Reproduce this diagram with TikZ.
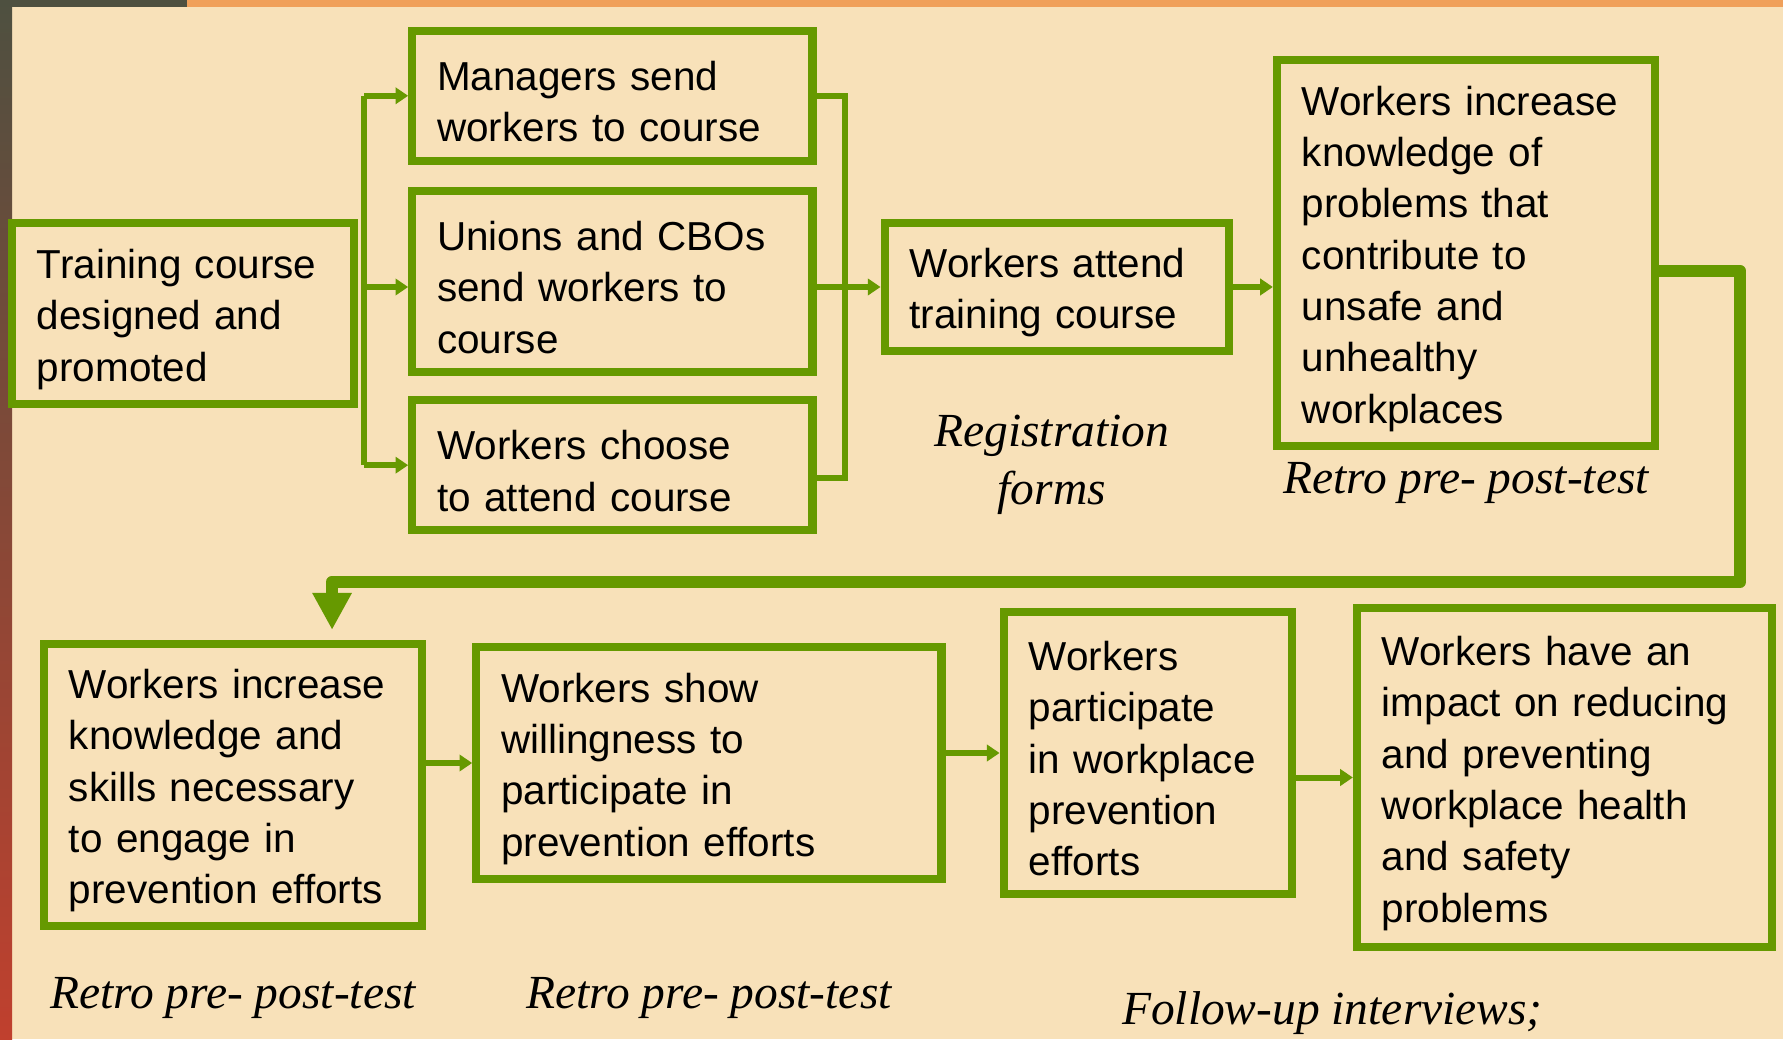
\documentclass[tikz,border=0pt]{standalone}
\usepackage{fontspec}
\setmainfont{Liberation Sans}
\newfontfamily\methodserif{Liberation Serif}
\usepackage{tikz}
\usetikzlibrary{arrows.meta,positioning,calc}
\definecolor{pathgreen}{HTML}{669900}
\definecolor{slidebg}{HTML}{F8E1B9}
\definecolor{slideolive}{HTML}{4E5040}
\definecolor{slideorange}{HTML}{F0A05A}
\definecolor{slidemaroon}{HTML}{6E4450}
\definecolor{slidered}{HTML}{C0402E}
\newcommand{\boxfont}{\fontsize{11.5}{14.6}\selectfont}
\newcommand{\methodfont}{\methodserif\itshape\fontsize{13.5}{16.5}\selectfont}
\tikzset{
  box/.style={draw=pathgreen, line width=2.3pt, align=left, inner xsep=0.25cm, font=\boxfont, execute at begin node={\rule{0pt}{11.6pt}}},
  method/.style={align=center, inner sep=0pt, font=\methodfont},
  link/.style={line width=1.7pt, draw=pathgreen},
  arrow/.style={-{Triangle[length=3.6pt, width=4.6pt]}, line width=1.7pt, draw=pathgreen},
  bigarrow/.style={-{Triangle[length=10.5pt, width=10.5pt]}, line width=3.4pt, draw=pathgreen, line join=round, shorten >=0.1cm}
}

\begin{document}
\begin{tikzpicture}[x=0.01cm, y=-0.01cm]
  \useasboundingbox (0,0) rectangle (1783,1039);
  \fill[slidebg] (0,0) rectangle (1783,1039);
  \shade[top color=slideolive, middle color=slidemaroon, bottom color=slidered] (0,0) rectangle (12,1039);
  \fill[slideolive] (0,0) rectangle (187,7);
  \fill[slideorange] (187,0) rectangle (1783,7);

  \node[box, text width=2.92cm, minimum height=1.81cm] (train) at (183,313.5) {Training course\\designed and\\promoted};
  \node[box, text width=3.5cm, minimum height=1.81cm, right=0.5cm of train, yshift=0.32cm] (union) {Unions and CBOs\\send workers to\\course};
  \node[box, text width=3.5cm, minimum height=1.3cm, above=0.22cm of union] (mgr) {Managers send\\workers to course};
  \node[box, text width=3.5cm, minimum height=1.3cm, below=0.2cm of union] (choose) {Workers choose\\to attend course};
  \node[box, text width=2.94cm, minimum height=1.28cm, right=0.64cm of union, yshift=-0.055cm] (attend) {Workers attend\\training course};
  \node[box, text width=3.28cm, minimum height=3.86cm, right=0.4cm of attend, yshift=0.34cm] (know) {Workers increase\\knowledge of\\problems that\\contribute to\\unsafe and\\unhealthy\\workplaces};

  \node[box, text width=3.28cm, minimum height=2.82cm] (skills) at (233,785) {Workers increase\\knowledge and\\skills necessary\\to engage in\\prevention efforts};
  \node[box, text width=4.15cm, minimum height=2.32cm, right=0.46cm of skills, yshift=0.22cm] (show) {Workers show\\willingness to\\participate in\\prevention efforts};
  \node[box, text width=2.38cm, minimum height=2.82cm, right=0.54cm of show, yshift=0.1cm] (part) {Workers\\participate\\in workplace\\prevention\\efforts};
  \node[box, text width=3.65cm, minimum height=3.39cm, right=0.57cm of part, yshift=-0.245cm] (impact) {Workers have an\\impact on reducing\\and preventing\\workplace health\\and safety\\problems};

  \node[method, below=0.59cm of attend, xshift=-0.05cm] (regform) {Registration\\forms};
  \node[method, below=0.12cm of know] (retroknow) {Retro pre- post-test};
  \node[method, below=0.47cm of skills] (retroskills) {Retro pre- post-test};
  \node[method, below=0.94cm of show] (retroshow) {Retro pre- post-test};
  \node[method, below=0.4cm of impact, xshift=-2.32cm] (followup) {Follow-up interviews;};

  \coordinate (fork) at ([xshift=0.06cm]train.east);
  \draw[link] (fork |- mgr.west) -- (fork |- choose.west);
  \draw[arrow] (fork |- mgr.west) -- (mgr.west);
  \draw[arrow] (fork |- attend.west) -- (union.west |- attend.west);
  \draw[arrow] (fork |- choose.west) -- (choose.west);

  \coordinate (join) at ([xshift=0.28cm]union.east);
  \coordinate (joinlow) at ([yshift=-0.13cm]choose.east);
  \draw[link] (mgr.east) -| (join |- joinlow) -- (joinlow);
  \draw[arrow] (union.east |- attend.west) -- (attend.west);
  \draw[arrow] (attend.east) -- (attend.east -| know.west);

  \coordinate (bend) at ([xshift=0.81cm, yshift=-0.18cm]know.east);
  \coordinate (drop) at ([xshift=0.99cm, yshift=0.58cm]skills.north);
  \draw[bigarrow] ([yshift=-0.18cm]know.east) -| (bend |- drop) -- (drop) -- ([xshift=0.99cm]skills.north);

  \draw[arrow] (show.west -| skills.east) -- (show.west);
  \draw[arrow] (part.west -| show.east) -- (part.west);
  \draw[arrow] (impact.west -| part.east) -- (impact.west);
\end{tikzpicture}
\end{document}
